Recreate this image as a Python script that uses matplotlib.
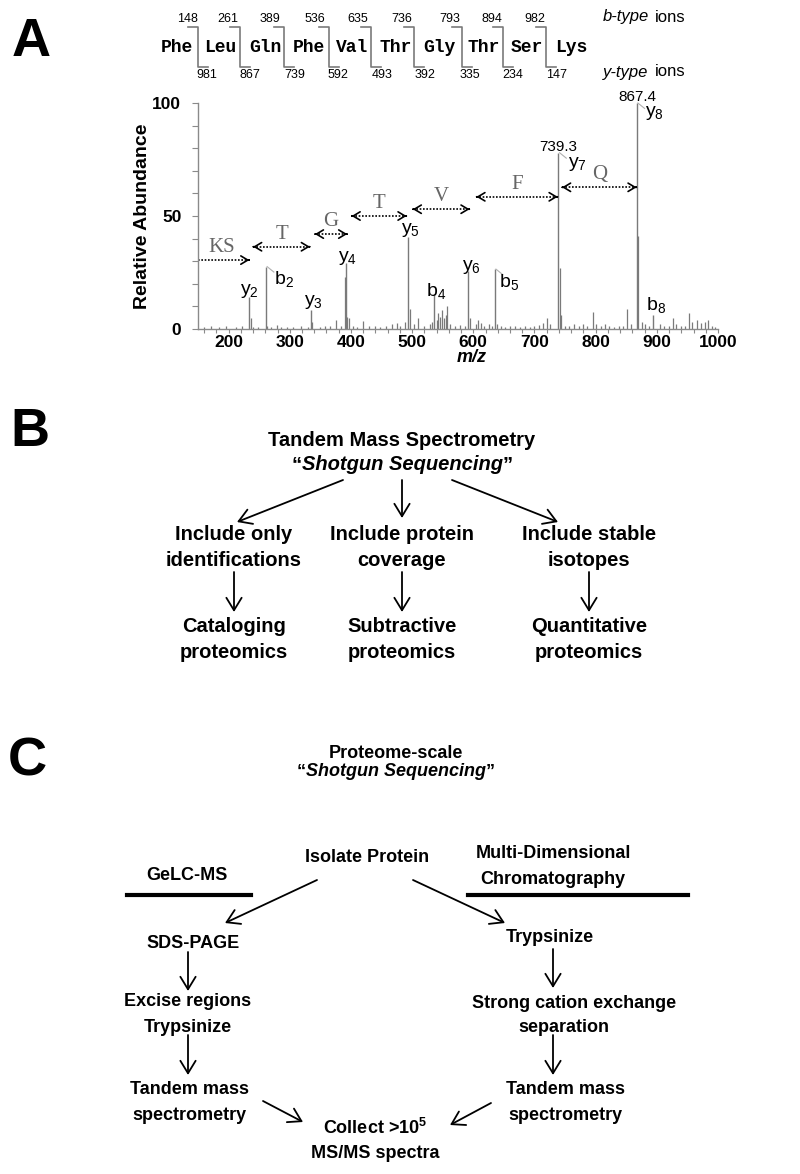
import numpy as np
import matplotlib
matplotlib.use("Agg")
from matplotlib import pyplot as plt
from matplotlib.offsetbox import TextArea, HPacker, AnnotationBbox

plt.rcParams['font.family'] = ['Liberation Sans', 'DejaVu Sans']
plt.rcParams['mathtext.default'] = 'regular'

# peptide sequence with b / y fragment masses
residues = ["Phe", "Leu", "Gln", "Phe", "Val", "Thr", "Gly", "Thr", "Ser", "Lys"]
b_ions = [148, 261, 389, 536, 635, 736, 793, 894, 982]
y_ions = [981, 867, 739, 592, 493, 392, 335, 234, 147]

# labelled spectrum peaks
ion_names = ["y2", "b2", "y3", "y4", "y5", "b4", "y6", "b5", "y7", "y8", "b8"]
ion_mz = [234, 261, 335, 392, 493, 536, 592, 635, 739, 867, 894]
ion_int = [14.3, 27.6, 8.4, 29.3, 40.8, 15.0, 25.8, 26.5, 78.0, 100.0, 6.0]

# other (unlabelled) peaks
minor_mz = [160, 172, 185, 196, 212, 222, 237, 240, 248, 263, 270, 279, 286, 296,
            305, 318, 330, 337, 350, 357, 366, 376, 384, 390, 394, 397, 403, 410,
            420, 430, 440, 448, 458, 467, 475, 481, 488, 496, 503, 510, 520, 529,
            532, 540, 543, 546, 549, 552, 555, 557, 562, 570, 578, 586, 595, 605,
            608, 612, 618, 625, 631, 638, 645, 652, 660, 668, 676, 685, 693, 700,
            708, 714, 720, 725, 741, 744, 750, 757, 765, 772, 780, 786, 795, 800,
            808, 815, 822, 830, 838, 845, 852, 858, 870, 875, 880, 888, 905, 912,
            920, 926, 932, 940, 946, 953, 958, 965, 972, 978, 983, 990, 995]
minor_int = [1.0, 1.5, 0.8, 1.2, 1.0, 1.5, 5.0, 1.0, 0.8, 1.5, 1.0, 1.8, 1.0, 0.8,
             1.0, 1.2, 1.0, 3.0, 0.8, 1.5, 1.2, 4.0, 1.5, 23.0, 5.5, 5.0, 1.5, 1.0,
             3.5, 1.2, 1.5, 1.0, 1.5, 2.0, 2.5, 1.5, 3.0, 9.0, 2.0, 5.0, 1.5, 2.0,
             3.0, 4.0, 7.0, 5.5, 8.5, 5.0, 6.0, 10.0, 2.0, 1.5, 1.8, 1.2, 5.0, 2.0,
             4.0, 2.5, 1.5, 2.0, 1.5, 2.0, 1.5, 1.0, 1.2, 1.5, 1.0, 1.2, 1.0, 1.5,
             1.8, 2.5, 5.0, 2.0, 27.0, 6.0, 1.5, 1.2, 2.0, 1.5, 2.0, 1.2, 7.5, 2.0,
             1.5, 2.0, 1.2, 1.0, 1.5, 1.2, 9.0, 2.0, 41.0, 3.0, 2.0, 1.5, 2.0, 1.5,
             1.2, 5.0, 2.0, 1.5, 1.5, 7.0, 3.0, 4.0, 2.5, 3.0, 4.0, 1.5, 1.0]

# residue gaps drawn as arrows: (label, start m/z, end m/z, level)
gap_labels = ["KS", "T", "G", "T", "V", "F", "Q"]
gap_start = [150, 240, 341, 401, 501, 605, 745]
gap_end = [234, 333, 394, 491, 594, 738, 867]
gap_level = [30.5, 36.4, 42.0, 50.0, 53.0, 58.5, 62.7]

x_ticks = [200, 300, 400, 500, 600, 700, 800, 900, 1000]
y_ticks = [0, 50, 100]

fig = plt.figure(figsize=(8, 11.74), dpi=100)

# overlay in pixel coordinates for the diagrams
ov = fig.add_axes([0, 0, 1, 1])
ov.set_xlim(0, 800)
ov.set_ylim(1174, 0)
ov.axis('off')

GRAY = '#7a7a7a'

# ---------- panel A : spectrum ----------
ax = fig.add_axes([198 / 800, 1 - 329 / 1174, 520 / 800, 226 / 1174])
ax.vlines(minor_mz, 0, minor_int, color=GRAY, lw=0.9)
ax.vlines(ion_mz, 0, ion_int, color=GRAY, lw=1.0)
ax.set_xlim(150, 1000)
ax.set_ylim(0, 100)
for s in ['top', 'right']:
    ax.spines[s].set_visible(False)
for s in ['left', 'bottom']:
    ax.spines[s].set_color('#8a8a8a')
    ax.spines[s].set_linewidth(1.0)
ax.set_xticks(x_ticks)
ax.set_xticks(np.arange(160, 1001, 20), minor=True)
ax.set_yticks(y_ticks)
ax.set_yticks(np.arange(0, 101, 10), minor=True)
ax.tick_params(which='both', direction='out', color='#8a8a8a', width=0.8)
ax.tick_params(axis='x', which='both', length=3, pad=1, labelsize=12.5)
ax.tick_params(axis='y', which='both', length=4, pad=8, labelsize=12.5)
for lbl in ax.get_xticklabels() + ax.get_yticklabels():
    lbl.set_fontweight('bold')
ax.set_ylabel("Relative Abundance", fontsize=14, fontweight='bold')
ax.yaxis.set_label_coords(-0.09, 0.5)
ax.text(0.527, -0.128, "m/z", transform=ax.transAxes, ha='center', va='center',
        fontsize=13, fontweight='bold', style='italic')
ax.patch.set_alpha(0)

# ion labels (offsets in data units)
lab_off = {"y2": (0, 2.5), "b2": (29, -5.6), "y3": (3, 3.6), "y4": (3, 2.1),
           "y5": (4, 3.0), "b4": (3, 1.8), "y6": (5, 1.8), "b5": (24, -5.7),
           "y7": (31, -5.0), "y8": (29, -4.6), "b8": (4, 4.6)}
for name, mz, h in zip(ion_names, ion_mz, ion_int):
    dx, dy = lab_off[name]
    ax.text(mz + dx, h + dy, name[0] + "$_{" + name[1] + "}$", ha='center',
            va='center', fontsize=14, color='black')
# thin connector strokes to the offset labels
for mz, h in [(261, 27.6), (635, 26.5), (739, 78.0), (867, 100.0)]:
    ax.plot([mz + 2, mz + 13], [h, h - 2.4], color='#b0b0b0', lw=0.8, clip_on=False)
ax.text(738.5, 80.7, "739.3", ha='center', va='center', fontsize=11)
ax.text(868, 102.8, "867.4", ha='center', va='center', fontsize=11)

# dotted residue gap arrows
head = '->,head_length=0.5,head_width=0.3'
for lab, x0, x1, lev in zip(gap_labels, gap_start, gap_end, gap_level):
    ax.plot([x0, x1], [lev, lev], color='black', lw=1.2, linestyle=(0, (1, 1)),
            clip_on=False)
    ax.annotate('', xy=(x1, lev), xytext=(x1 - 1, lev),
                arrowprops=dict(arrowstyle=head, lw=1.2, color='black',
                                shrinkA=0, shrinkB=0))
    if lab != "KS":
        ax.annotate('', xy=(x0, lev), xytext=(x0 + 1, lev),
                    arrowprops=dict(arrowstyle=head, lw=1.2, color='black',
                                    shrinkA=0, shrinkB=0))
    lx = (x0 + x1) / 2 if lab != "KS" else 188
    ax.text(lx, lev + 5.6, lab, ha='center', va='center', fontsize=15,
            family='Liberation Serif', color='#666666')

# peptide ladder
sep_x = [198, 240, 284, 329, 371, 414, 462, 503, 546]
res_x = [177, 220.5, 265, 309, 352.5, 396, 439, 484, 527, 571]
b_x = [187, 228, 270, 315, 358, 402, 450, 492, 535]
y_x = [207, 250, 295, 338, 382, 425, 470, 513, 557]
for r, x in zip(residues, res_x):
    ov.text(x, 48, r, ha='center', va='center', fontsize=13, fontweight='bold',
            family='Liberation Mono')
for x in sep_x:
    ov.plot([x - 10, x, x, x + 10], [27, 27, 67, 67], color=GRAY, lw=1.2)
for v, x in zip(b_ions, b_x):
    ov.text(x, 19, str(v), ha='center', va='center', fontsize=9)
for v, x in zip(y_ions, y_x):
    ov.text(x, 75, str(v), ha='center', va='center', fontsize=9)
ov.text(603, 17, "b-type", ha='left', va='center', fontsize=12, style='italic')
ov.text(655, 17, "ions", ha='left', va='center', fontsize=12)
ov.text(603, 72, "y-type", ha='left', va='center', fontsize=12, style='italic')
ov.text(655, 72, "ions", ha='left', va='center', fontsize=12)

# panel letters
for letter, (lx, ly) in zip("ABC", [(12, 42), (10, 432), (8, 761)]):
    ov.text(lx, ly, letter, ha='left', va='center', fontsize=39, fontweight='bold')


def quoted(x, y, word, size):
    base = dict(fontsize=size, fontweight='bold', family='Liberation Sans')
    parts = [TextArea('\u201c', textprops=base),
             TextArea(word, textprops=dict(base, style='italic')),
             TextArea('\u201d', textprops=base)]
    box = HPacker(children=parts, align='baseline', pad=0, sep=0)
    ab = AnnotationBbox(box, (x, y), xycoords='data', box_alignment=(0.5, 0.5),
                        frameon=False, pad=0)
    ov.add_artist(ab)


def arrow(x0, y0, x1, y1):
    ov.annotate('', xy=(x1, y1), xytext=(x0, y0),
                arrowprops=dict(arrowstyle='->,head_length=0.9,head_width=0.55',
                                lw=1.3, color='black', shrinkA=0, shrinkB=0))


def label(x, y, s, size):
    ov.text(x, y, s, ha='center', va='center', fontsize=size, fontweight='bold')


# ---------- panel B ----------
FB = 14.5
label(402, 440, "Tandem Mass Spectrometry", FB)
quoted(402, 465, "Shotgun Sequencing", FB)
arrow(343, 480, 237, 522)
arrow(402, 480, 402, 518)
arrow(452, 480, 558, 522)
for x, l1, l2, l3, l4 in [(234, "Include only", "identifications", "Cataloging", "proteomics"),
                          (402, "Include protein", "coverage", "Subtractive", "proteomics"),
                          (589, "Include stable", "isotopes", "Quantitative", "proteomics")]:
    label(x, 535, l1, FB)
    label(x, 560, l2, FB)
    arrow(x, 572, x, 612)
    label(x, 627, l3, FB)
    label(x, 652, l4, FB)

# ---------- panel C ----------
FC = 13
label(396, 753, "Proteome-scale", FC)
quoted(396, 772, "Shotgun Sequencing", FC)
label(367, 858, "Isolate Protein", FC)
label(187, 876, "GeLC-MS", FC)
ov.plot([127, 251], [895, 895], color='black', lw=3)
label(553, 853, "Multi-Dimensional", FC)
label(553, 879, "Chromatography", FC)
ov.plot([468, 688], [895, 895], color='black', lw=3)
arrow(317, 880, 225, 923)
arrow(413, 880, 505, 923)
label(193, 943, "SDS-PAGE", FC)
arrow(188, 952, 188, 991)
label(188, 1001, "Excise regions", FC)
label(188, 1027, "Trypsinize", FC)
arrow(188, 1035, 188, 1075)
label(189, 1090, "Tandem mass", FC)
label(189, 1115, "spectrometry", FC)
arrow(263, 1101, 303, 1122)
label(550, 937, "Trypsinize", FC)
arrow(553, 949, 553, 988)
label(574, 1003, "Strong cation exchange", FC)
label(564, 1027, "separation", FC)
arrow(553, 1035, 553, 1075)
label(565, 1090, "Tandem mass", FC)
label(565, 1115, "spectrometry", FC)
arrow(491, 1103, 450, 1125)
label(375, 1128, "Collect >10$^{5}$", FC)
label(375, 1153, "MS/MS spectra", FC)

fig.savefig("out.png", dpi=100)
